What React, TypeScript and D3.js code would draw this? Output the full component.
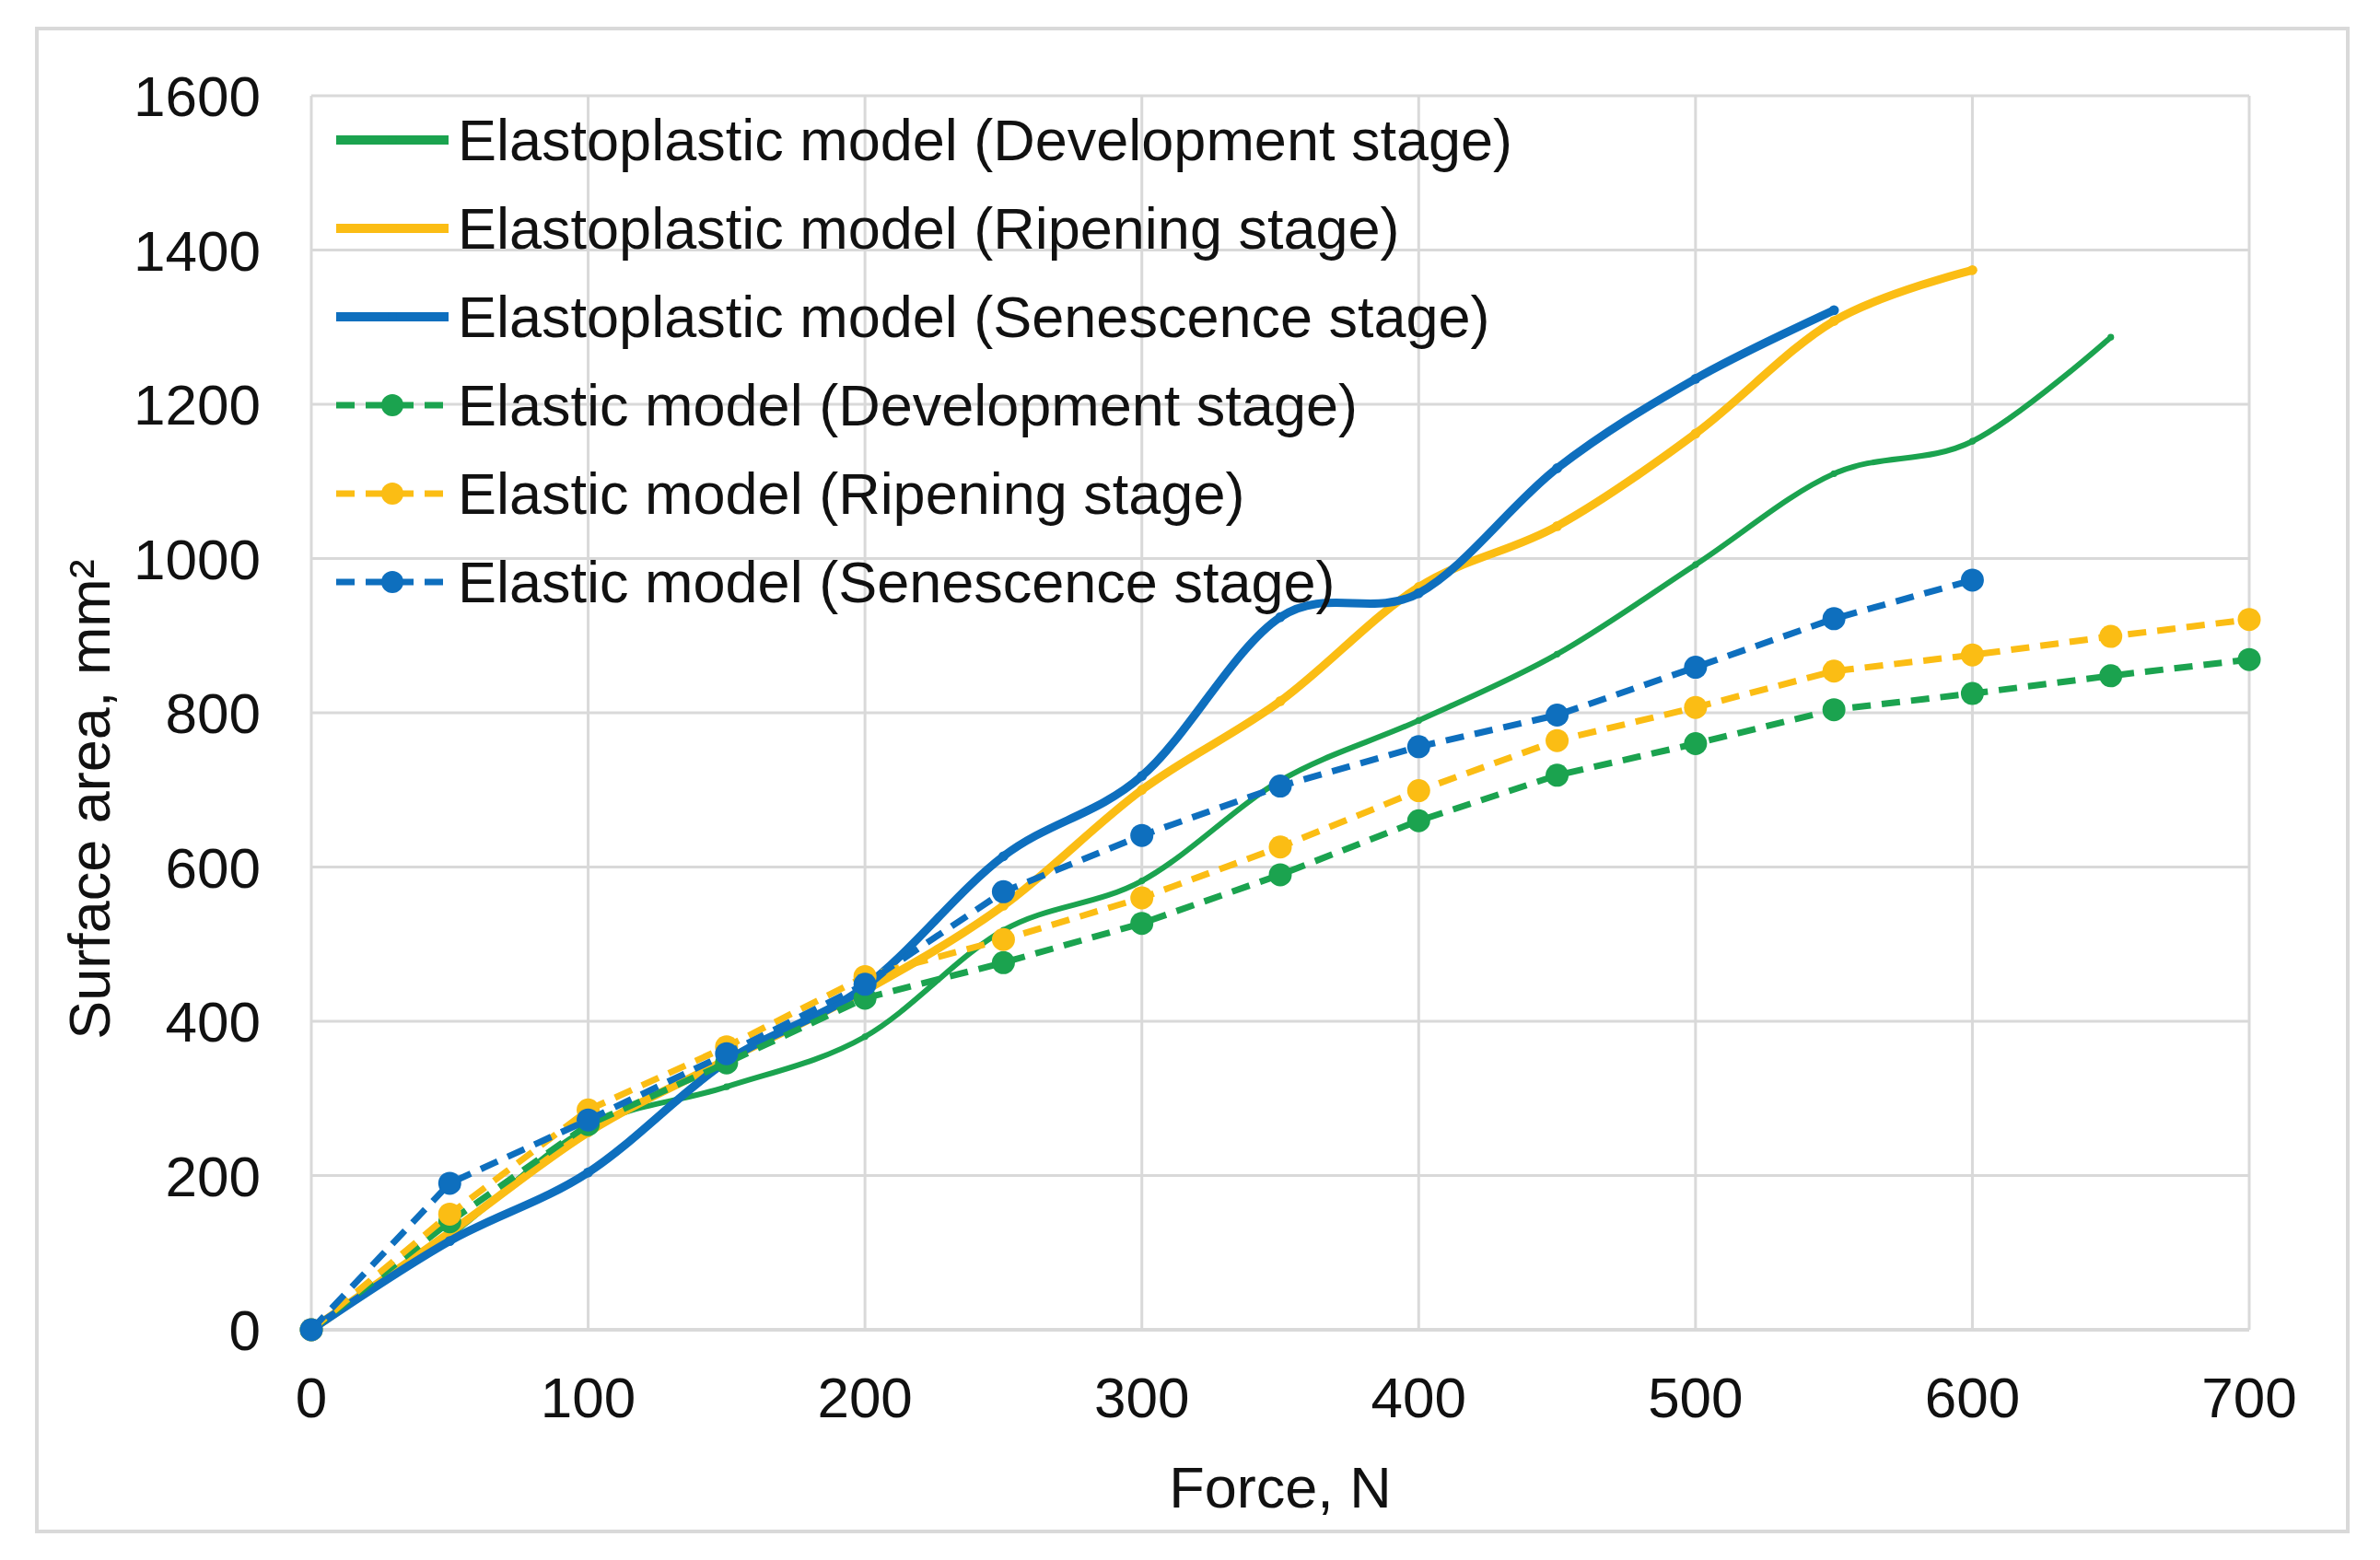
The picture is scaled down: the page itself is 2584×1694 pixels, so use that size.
import * as d3 from "d3";

const forces = [0, 50, 100, 150, 200, 250, 300, 350, 400, 450, 500, 550, 600, 650, 700];

// elastoplastic model (smooth solid lines)
const epDevelopment = [0, 122, 262, 315, 380, 518, 582, 712, 790, 876, 992, 1110, 1152, 1287];
const epRipening = [0, 126, 256, 350, 440, 550, 700, 815, 963, 1042, 1162, 1308, 1374];
const epSenescence = [0, 115, 204, 348, 445, 614, 718, 924, 955, 1117, 1233, 1322];

// elastic model (dashed lines with markers)
const elDevelopment = [0, 140, 266, 346, 430, 476, 527, 590, 660, 719, 760, 804, 825, 848, 869];
const elRipening = [0, 150, 285, 367, 458, 506, 560, 626, 699, 764, 807, 854, 875, 899, 921];
const elSenescence = [0, 190, 272, 358, 448, 568, 641, 705, 756, 797, 859, 922, 972];

const xTicks = [0, 100, 200, 300, 400, 500, 600, 700];
const yTicks = [0, 200, 400, 600, 800, 1000, 1200, 1400, 1600];

const GREEN = "#1ba34f";
const YELLOW = "#fbbd14";
const BLUE = "#0e6fbe";

type Series = {
  name: string;
  values: number[];
  color: string;
  width: number;
  dashed: boolean;
};

const series: Series[] = [
  { name: "Elastoplastic model (Development stage)", values: epDevelopment, color: GREEN, width: 6, dashed: false },
  { name: "Elastoplastic model (Ripening stage)", values: epRipening, color: YELLOW, width: 9, dashed: false },
  { name: "Elastoplastic model (Senescence stage)", values: epSenescence, color: BLUE, width: 9, dashed: false },
  { name: "Elastic model (Development stage)", values: elDevelopment, color: GREEN, width: 7, dashed: true },
  { name: "Elastic model (Ripening stage)", values: elRipening, color: YELLOW, width: 7, dashed: true },
  { name: "Elastic model (Senescence stage)", values: elSenescence, color: BLUE, width: 7, dashed: true },
];

const FONT = "'Liberation Sans', Arial, Helvetica, sans-serif";

export default function App() {
  const width = 2584;
  const height = 1694;
  const plot = { left: 338, right: 2442, top: 104, bottom: 1444 };

  const x = d3.scaleLinear().domain([0, 700]).range([plot.left, plot.right]);
  const y = d3.scaleLinear().domain([0, 1600]).range([plot.bottom, plot.top]);

  const smooth = d3
    .line<number>()
    .x((_, i) => x(forces[i]))
    .y((d) => y(d))
    .curve(d3.curveCardinal.tension(0));

  const straight = d3
    .line<number>()
    .x((_, i) => x(forces[i]))
    .y((d) => y(d));

  const legendX = 365;
  const legendY = 152;
  const legendStep = 96;
  const dash = "20 12";

  return (
    <svg
      width={width}
      height={height}
      style={{ position: "absolute", left: 0, top: 0, background: "#fff" }}
      fontFamily={FONT}
    >
      <rect x={0} y={0} width={width} height={height} fill="#fff" />
      <rect x={40} y={31} width={2509} height={1632} fill="#fff" stroke="#d9d9d9" strokeWidth={4} />

      {/* gridlines */}
      {yTicks.map((t) => (
        <line key={"gy" + t} x1={plot.left} x2={plot.right} y1={y(t)} y2={y(t)} stroke="#d9d9d9" strokeWidth={t === 0 ? 4 : 3} />
      ))}
      {xTicks.map((t) => (
        <line key={"gx" + t} x1={x(t)} x2={x(t)} y1={plot.top} y2={plot.bottom} stroke="#d9d9d9" strokeWidth={3} />
      ))}

      {/* tick labels */}
      {yTicks.map((t) => (
        <text key={"ty" + t} x={283} y={y(t) + 22} textAnchor="end" fontSize={62} fill="#111">
          {t}
        </text>
      ))}
      {xTicks.map((t) => (
        <text key={"tx" + t} x={x(t)} y={1539} textAnchor="middle" fontSize={62} fill="#111">
          {t}
        </text>
      ))}

      {/* axis titles */}
      <text x={(plot.left + plot.right) / 2} y={1637} textAnchor="middle" fontSize={63} fill="#111">
        Force, N
      </text>
      <text transform="translate(119,868) rotate(-90)" textAnchor="middle" fontSize={63} fill="#111">
        Surface area, mm²
      </text>

      {/* series */}
      {series.map((s) => (
        <g key={s.name}>
          <path
            d={(s.dashed ? straight : smooth)(s.values) ?? undefined}
            fill="none"
            stroke={s.color}
            strokeWidth={s.width}
            strokeDasharray={s.dashed ? dash : undefined}
            strokeLinejoin="round"
          />
          {s.values.map((v, i) => (
            <circle key={i} cx={x(forces[i])} cy={y(v)} r={s.dashed ? 12.5 : s.width * 0.6} fill={s.color} />
          ))}
        </g>
      ))}

      {/* legend */}
      {series.map((s, i) => {
        const cy = legendY + i * legendStep;
        return (
          <g key={"lg" + s.name}>
            <line
              x1={legendX}
              x2={legendX + 122}
              y1={cy}
              y2={cy}
              stroke={s.color}
              strokeWidth={s.dashed ? 7 : 10}
              strokeDasharray={s.dashed ? dash : undefined}
            />
            <circle cx={legendX + 61} cy={cy} r={s.dashed ? 12 : 5} fill={s.color} />
            <text x={497} y={cy + 22} fontSize={63} fill="#111">
              {s.name}
            </text>
          </g>
        );
      })}
    </svg>
  );
}
